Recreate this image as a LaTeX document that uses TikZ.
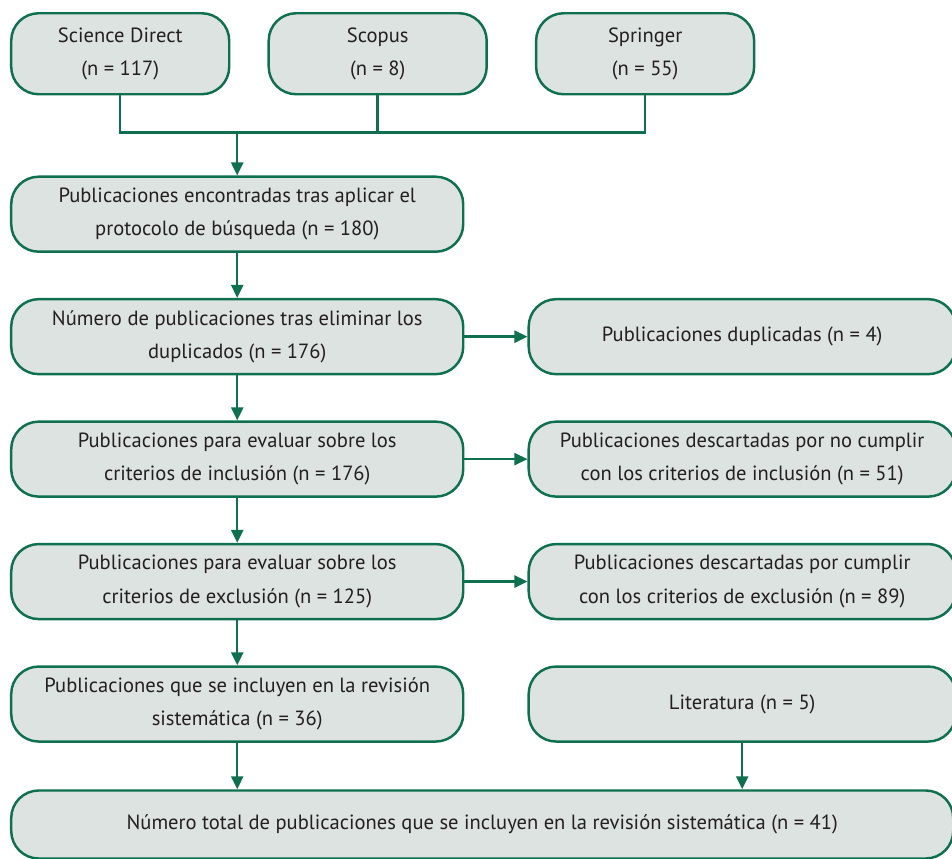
\documentclass[tikz,border=0pt]{standalone}
\usepackage{fontspec}
\setmainfont{PT Sans}
\usetikzlibrary{arrows.meta,positioning}

\definecolor{boxgreen}{RGB}{14,112,78}
\definecolor{boxfill}{RGB}{221,227,224}
\definecolor{boxtext}{RGB}{35,31,32}

\begin{document}
\begin{tikzpicture}[
        node distance=0.9cm and 1.26cm,
        every node/.style={align=center, text=boxtext, font=\fontsize{11.7}{19}\selectfont},
        every path/.style={line width=1.4pt},
        box/.style={draw=boxgreen, fill=boxfill, rounded corners=0.55cm, inner sep=2pt},
        sourcebox/.style={box, minimum width=4.36cm, minimum height=1.62cm},
        leftbox/.style={box, minimum width=9.04cm, minimum height=1.5cm},
        rightbox/.style={box, minimum width=8.54cm, minimum height=1.5cm},
        link/.style={draw=boxgreen},
        flow/.style={draw=boxgreen, -{Triangle[length=2.6mm, width=2.4mm]}}
    ]
    \useasboundingbox (0,0) rectangle (19.04,-17.16);

    % Sources
    \node[sourcebox, anchor=north west] (sd) at (0.2,-0.24) {Science Direct \\ (n = 117)};
    \node[sourcebox, right=0.74cm of sd] (scopus) {Scopus \\ (n = 8)};
    \node[sourcebox, right=0.94cm of scopus] (springer) {Springer \\ (n = 55)};

    % Left column
    \node[leftbox, below=1.6cm of sd.south west, anchor=north west] (found)
        {Publicaciones encontradas tras aplicar el \\ protocolo de búsqueda (n = 180)};
    \node[leftbox, below=of found] (nodup)
        {Número de publicaciones tras eliminar los \\ duplicados (n = 176)};
    \node[leftbox, below=of nodup] (evalincl)
        {Publicaciones para evaluar sobre los \\ criterios de inclusión (n = 176)};
    \node[leftbox, below=of evalincl] (evalexcl)
        {Publicaciones para evaluar sobre los \\ criterios de exclusión (n = 125)};
    \node[leftbox, below=of evalexcl] (included)
        {Publicaciones que se incluyen en la revisión \\ sistemática (n = 36)};

    % Right column
    \node[rightbox, right=of nodup] (dup) {Publicaciones duplicadas (n = 4)};
    \node[rightbox, right=of evalincl] (dropincl)
        {Publicaciones descartadas por no cumplir \\ con los criterios de inclusión (n = 51)};
    \node[rightbox, right=of evalexcl] (dropexcl)
        {Publicaciones descartadas por cumplir \\ con los criterios de exclusión (n = 89)};
    \node[rightbox, right=of included] (lit) {Literatura (n = 5)};

    % Total
    \node[box, minimum width=18.84cm, minimum height=1.36cm, anchor=north west] (total)
        at ([yshift=-0.93cm]included.south west)
        {Número total de publicaciones que se incluyen en la revisión sistemática (n = 41)};

    % Edges
    \coordinate[below=0.74cm of sd.south] (join);
    \draw[link] (sd.south) -- (sd.south |- join) -- (springer.south |- join) -- (springer.south);
    \draw[link] (scopus.south) -- (scopus.south |- join);
    \draw[flow] (found.north |- join) -- (found.north);
    \draw[flow] (found) -- (nodup);
    \draw[flow] (nodup) -- (evalincl);
    \draw[flow] (evalincl) -- (evalexcl);
    \draw[flow] (evalexcl) -- (included);
    \draw[flow] (nodup) -- (dup);
    \draw[flow] (evalincl) -- (dropincl);
    \draw[flow] (evalexcl) -- (dropexcl);
    \draw[flow] (included.south) -- (included.south |- total.north);
    \draw[flow] (lit.south) -- (lit.south |- total.north);

\end{tikzpicture}
\end{document}
